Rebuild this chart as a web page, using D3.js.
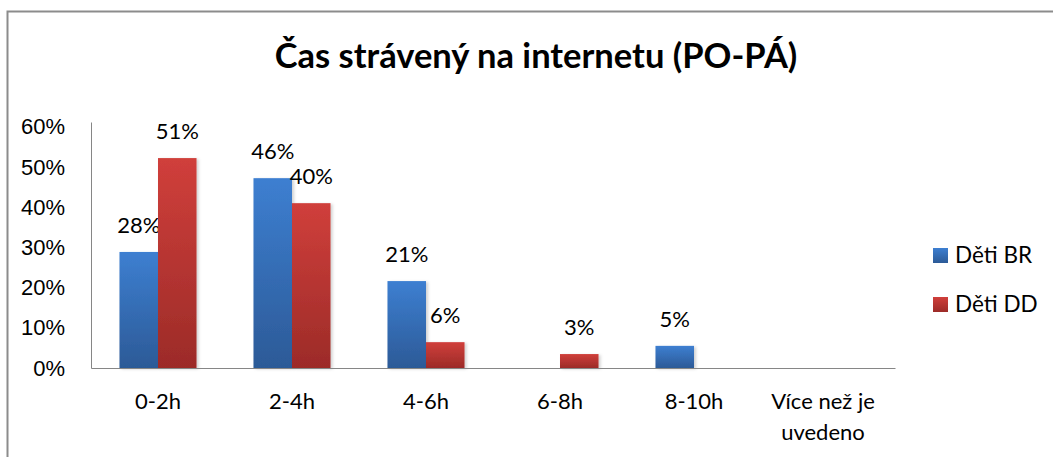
<!DOCTYPE html>
<meta charset="utf-8" />
<style>
  body {
    margin: 0;
    background: #fff;
  }
  svg {
    font-family: Lato, "Open Sans", sans-serif;
  }
</style>

<body>
  <div id="graf"></div>
  <script src="https://cdn.jsdelivr.net/npm/d3@7/dist/d3.min.js"></script>
  <script>
    var kategorie = ["0-2h", "2-4h", "4-6h", "6-8h", "8-10h", "Více než je uvedeno"];
    var serie = ["Děti BR", "Děti DD"];
    var detiBR = [0.283, 0.463, 0.212, 0, 0.054, 0];
    var detiDD = [0.512, 0.402, 0.063, 0.034, 0, 0];
    var ticksY = [0, 0.1, 0.2, 0.3, 0.4, 0.5, 0.6];

    var sirka = 1053;
    var vyska = 457;

    var svg = d3
      .select("#graf")
      .append("svg")
      .attr("width", sirka)
      .attr("height", vyska);

    // gradienty pro sloupce
    var defs = svg.append("defs");
    var barvy = [
      ["#3d7fd1", "#2c5a97"],
      ["#d03f3b", "#9c2b28"],
    ];
    barvy.forEach(function (b, i) {
      var g = defs
        .append("linearGradient")
        .attr("id", "grad" + i)
        .attr("x1", 0)
        .attr("y1", 0)
        .attr("x2", 0)
        .attr("y2", 1);
      g.append("stop").attr("offset", "0%").attr("stop-color", b[0]);
      g.append("stop").attr("offset", "100%").attr("stop-color", b[1]);
    });
    var stin = defs
      .append("filter")
      .attr("id", "stin")
      .attr("x", "-20%")
      .attr("y", "-20%")
      .attr("width", "150%")
      .attr("height", "150%");
    stin
      .append("feDropShadow")
      .attr("dx", 2)
      .attr("dy", 1)
      .attr("stdDeviation", 1.5)
      .attr("flood-color", "#000")
      .attr("flood-opacity", 0.18);

    // ramecek
    svg
      .append("rect")
      .attr("x", 7.5)
      .attr("y", 11.5)
      .attr("width", sirka + 10)
      .attr("height", vyska + 10)
      .attr("fill", "none")
      .attr("stroke", "#8c8c8c")
      .attr("stroke-width", 2);

    svg
      .append("text")
      .attr("x", 536)
      .attr("y", 68)
      .attr("text-anchor", "middle")
      .attr("font-size", "34.5px")
      .attr("font-weight", "bold")
      .text("Čas strávený na internetu (PO-PÁ)");

    var x = d3
      .scaleBand()
      .domain(kategorie)
      .range([91, 895])
      .paddingInner(0.425)
      .paddingOuter(0.2125);
    var xs = d3.scaleBand().domain(serie).range([0, x.bandwidth()]);
    var y = d3.scaleLinear().domain([0, 0.6]).range([368, 122]);

    var data = serie.map(function (s, i) {
      var hodnoty = i === 0 ? detiBR : detiDD;
      return kategorie.map(function (k, j) {
        return { kat: k, serie: s, idx: i, val: hodnoty[j] };
      });
    });

    var skupiny = svg
      .selectAll(".serie")
      .data(data)
      .enter()
      .append("g")
      .attr("class", "serie");

    skupiny
      .selectAll("rect")
      .data(function (d) {
        return d.filter(function (e) {
          return e.val > 0;
        });
      })
      .enter()
      .append("rect")
      .attr("x", function (d) {
        return x(d.kat) + xs(d.serie);
      })
      .attr("y", function (d) {
        return y(d.val);
      })
      .attr("width", xs.bandwidth())
      .attr("height", function (d) {
        return y(0) - y(d.val);
      })
      .attr("fill", function (d) {
        return "url(#grad" + d.idx + ")";
      })
      .attr("filter", "url(#stin)");

    skupiny
      .selectAll("text")
      .data(function (d) {
        return d.filter(function (e) {
          return e.val > 0;
        });
      })
      .enter()
      .append("text")
      .attr("x", function (d) {
        return x(d.kat) + xs(d.serie) + xs.bandwidth() / 2;
      })
      .attr("y", function (d) {
        return y(d.val) - 19;
      })
      .attr("text-anchor", "middle")
      .attr("font-size", "22px")
      .attr("fill", "#000")
      .text(function (d) {
        return Math.round(d.val * 100) + "%";
      });

    // osa Y
    var osaY = svg
      .append("g")
      .attr("transform", "translate(91,0)")
      .call(
        d3
          .axisLeft(y)
          .tickValues(ticksY)
          .tickSize(0)
          .tickPadding(26)
          .tickFormat(d3.format(".0%"))
      );
    osaY.select(".domain").attr("stroke", "#868686");
    osaY
      .selectAll("text")
      .attr("font-size", "22px")
      .attr("fill", "#000")
      .attr("font-family", null)
      .attr("dy", function (d) {
        return 7 + d * 8 + "px";
      });

    // osa X
    var osaX = svg
      .append("g")
      .attr("transform", "translate(0,368)")
      .call(d3.axisBottom(x).tickSize(0).tickSizeOuter(0).tickFormat(""));
    osaX.select(".domain").attr("stroke", "#868686");

    var popisky = svg
      .selectAll(".popisX")
      .data(kategorie)
      .enter()
      .append("text")
      .attr("class", "popisX")
      .attr("text-anchor", "middle")
      .attr("font-size", "22px")
      .attr("x", function (d) {
        var posun = d === "Více než je uvedeno" ? -5 : 0;
        return x(d) + x.bandwidth() / 2 + posun;
      })
      .attr("y", 409);
    popisky.each(function (d) {
      var t = d3.select(this);
      var radky = d === "Více než je uvedeno" ? ["Více než je", "uvedeno"] : [d];
      radky.forEach(function (r, i) {
        t.append("tspan")
          .attr("x", t.attr("x"))
          .attr("dy", i === 0 ? 0 : 31)
          .text(r);
      });
    });

    // legenda
    var legenda = svg
      .selectAll(".leg")
      .data(serie)
      .enter()
      .append("g")
      .attr("class", "leg")
      .attr("transform", function (d, i) {
        return "translate(933," + (248 + i * 49) + ")";
      });
    legenda
      .append("rect")
      .attr("width", 15)
      .attr("height", 15)
      .attr("fill", function (d, i) {
        return "url(#grad" + i + ")";
      });
    legenda
      .append("text")
      .attr("x", 22)
      .attr("y", 15)
      .attr("font-size", "22.5px")
      .text(function (d) {
        return d;
      });
  </script>
</body>
